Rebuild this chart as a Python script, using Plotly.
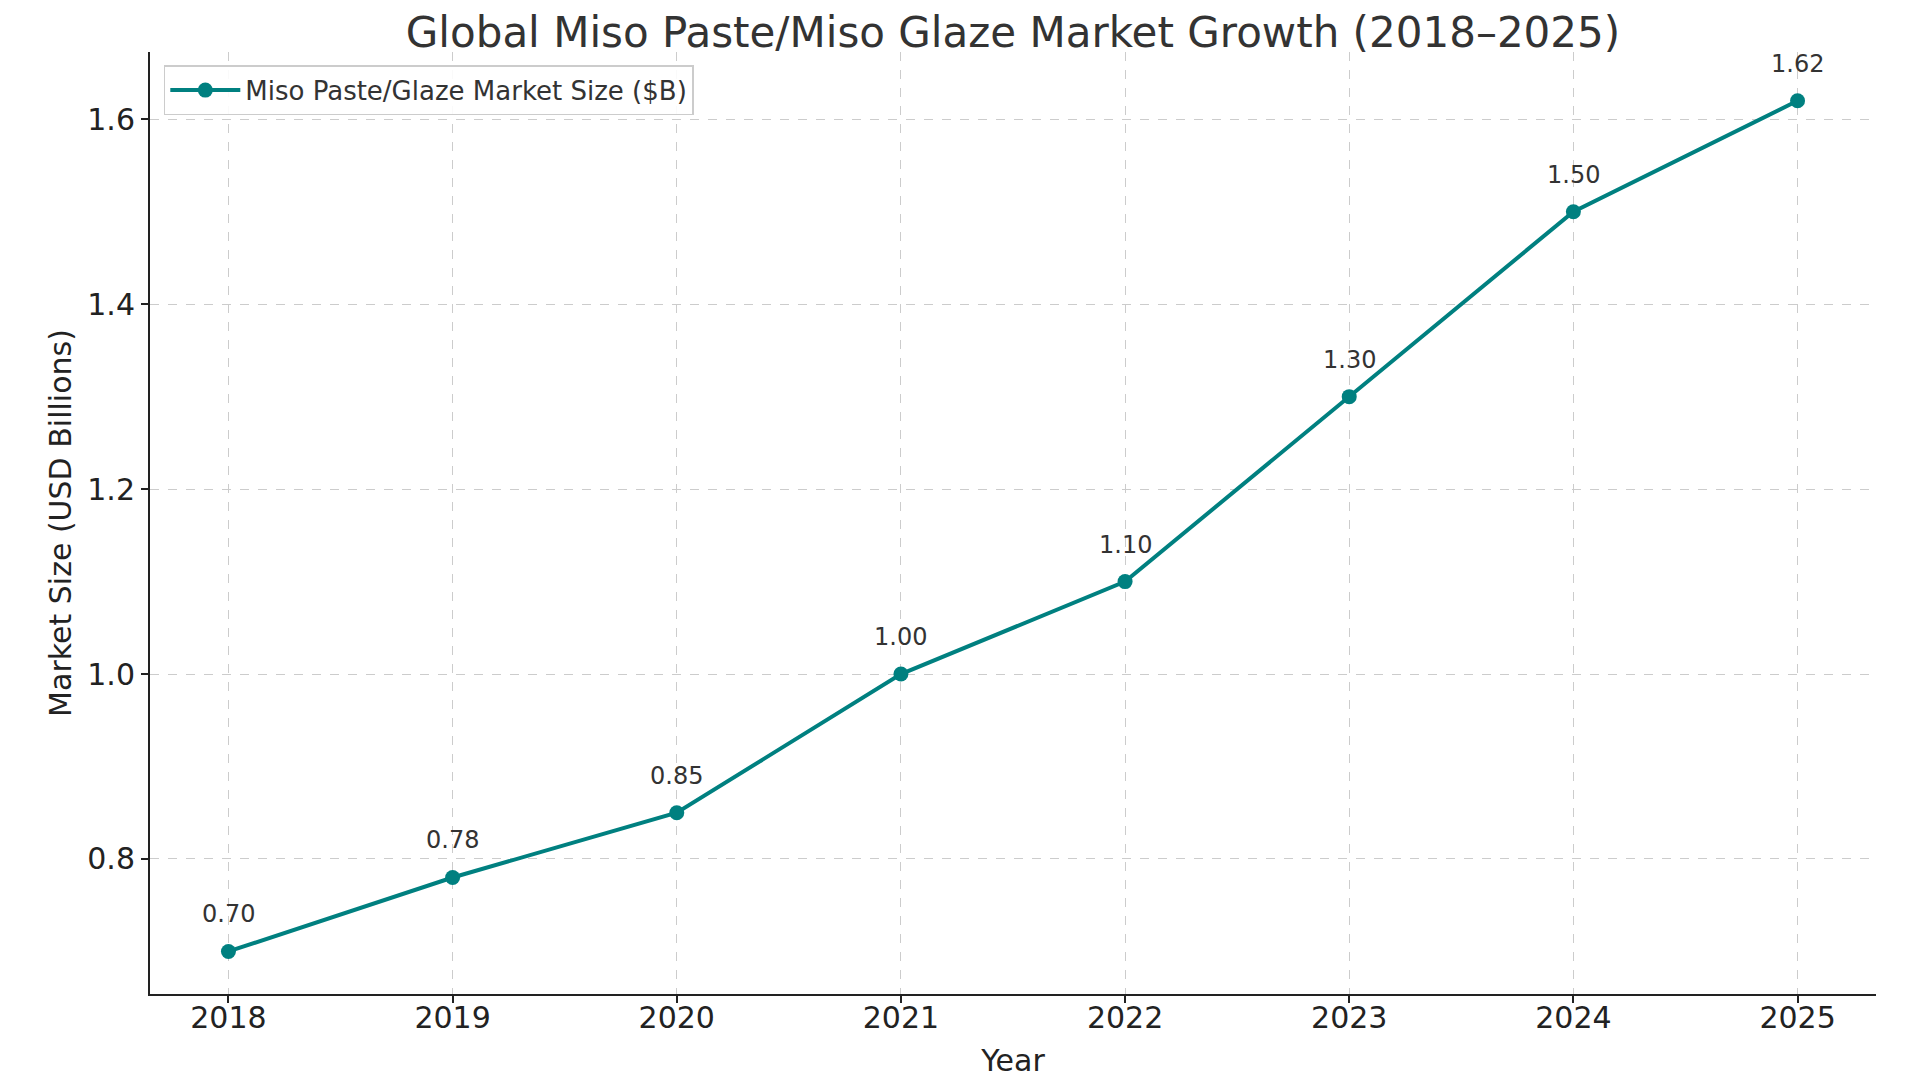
import plotly.graph_objects as go

# market size by year (USD billions)
years = [2018, 2019, 2020, 2021, 2022, 2023, 2024, 2025]
market_size = [0.70, 0.78, 0.85, 1.00, 1.10, 1.30, 1.50, 1.62]
y_ticks = [0.8, 1.0, 1.2, 1.4, 1.6]

teal = "#008080"
font = "DejaVu Sans"

fig = go.Figure()
fig.add_trace(go.Scatter(
    x=years,
    y=market_size,
    mode="lines+markers",
    name="Miso Paste/Glaze Market Size ($B)",
    line=dict(color=teal, width=4),
    marker=dict(color=teal, size=15),
))

# value labels above each point
for yr, val in zip(years, market_size):
    fig.add_annotation(
        x=yr, y=val, text=f"{val:.2f}",
        showarrow=False, yshift=37,
        font=dict(family=font, size=24, color="#333333"),
    )

fig.update_layout(
    width=1920, height=1080,
    paper_bgcolor="white", plot_bgcolor="white",
    margin=dict(l=142, r=52, t=44, b=94),
    font=dict(family=font, color="#222222"),
    title=dict(
        text="Global Miso Paste/Miso Glaze Market Growth (2018–2025)",
        x=0.5, xref="paper", xanchor="center",
        y=1 - 24 / 1080, yanchor="middle",
        font=dict(family=font, size=42, color="#333333"),
    ),
    legend=dict(
        x=0.008, y=0.986, xanchor="left", yanchor="top",
        bgcolor="rgba(255,255,255,0.9)",
        bordercolor="#cccccc", borderwidth=1.5,
        itemwidth=70,
        font=dict(family=font, size=26, color="#333333"),
    ),
    showlegend=True,
)

fig.update_xaxes(
    range=[2017.65, 2025.35],
    tickvals=years, ticktext=[str(y) for y in years],
    title=dict(text="Year", font=dict(size=30), standoff=16),
    tickfont=dict(size=30),
    ticklabelstandoff=-11,
    automargin=False,
    showline=True, linecolor="#222222", linewidth=2,
    ticks="outside", ticklen=7, tickwidth=2, tickcolor="#222222",
    showgrid=True, gridcolor="#cccccc", gridwidth=1.2, griddash="dash",
    zeroline=False,
)
fig.update_yaxes(
    range=[0.654, 1.6727],
    tickvals=y_ticks, tickformat=".1f",
    title=dict(text="Market Size (USD Billions)", font=dict(size=30), standoff=7),
    tickfont=dict(size=30),
    showline=True, linecolor="#222222", linewidth=2,
    ticks="outside", ticklen=7, tickwidth=2, tickcolor="#222222",
    showgrid=True, gridcolor="#cccccc", gridwidth=1.2, griddash="dash",
    zeroline=False,
)

fig.write_html("out.html")
